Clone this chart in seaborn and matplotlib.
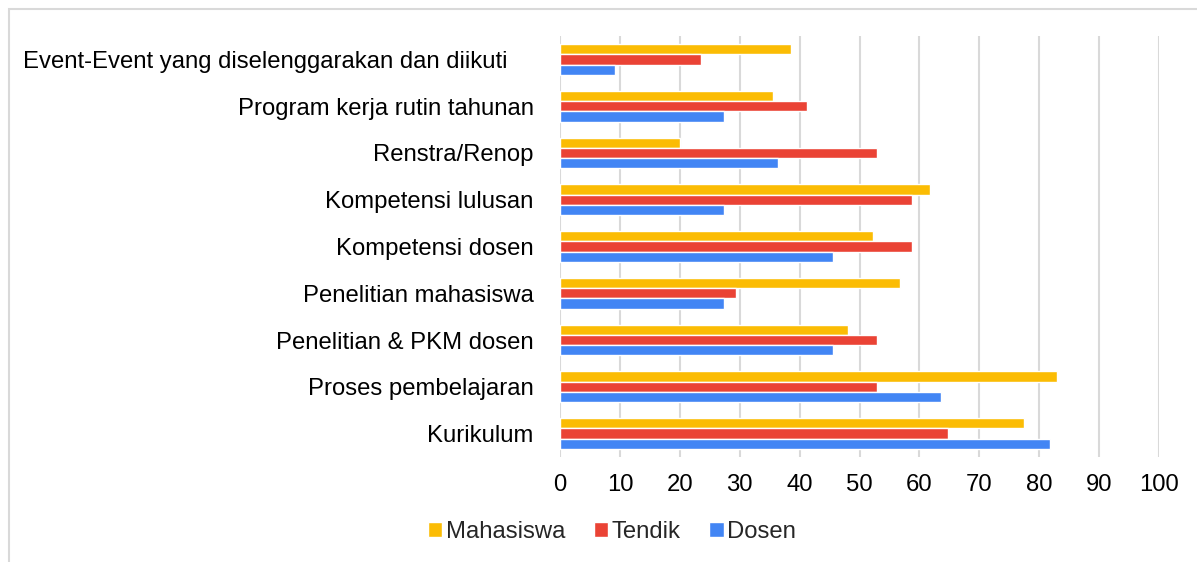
import numpy as np
import pandas as pd
import matplotlib.pyplot as plt
import matplotlib.transforms as mtransforms
import seaborn as sns
from matplotlib.patches import Rectangle, Patch

sns.set_style("white")
plt.rcParams['font.family'] = ['Liberation Sans', 'DejaVu Sans']

categories = ["Event-Event yang diselenggarakan dan diikuti", "Program kerja rutin tahunan",
              "Renstra/Renop", "Kompetensi lulusan", "Kompetensi dosen",
              "Penelitian mahasiswa", "Penelitian & PKM dosen", "Proses pembelajaran",
              "Kurikulum"]
series = ["Mahasiswa", "Tendik", "Dosen"]
mahasiswa = [38.6, 35.6, 20.1, 61.7, 52.3, 56.7, 48.1, 83.0, 77.4]
tendik = [23.5, 41.2, 52.9, 58.8, 58.8, 29.4, 52.9, 52.9, 64.7]
dosen = [9.1, 27.3, 36.4, 27.3, 45.5, 27.3, 45.5, 63.6, 81.8]
colors = ["#FBBC04", "#EA4335", "#4285F4"]
xticks = list(range(0, 101, 10))

df = pd.DataFrame({
    "kategori": categories * 3,
    "seri": np.repeat(series, len(categories)),
    "nilai": mahasiswa + tendik + dosen,
})

fig = plt.figure(figsize=(11.97, 5.62), dpi=100)
ax = fig.add_axes([560 / 1197, 1 - 457 / 562, (1159 - 560) / 1197, (457 - 36) / 562])

sns.barplot(data=df, x="nilai", y="kategori", hue="seri", order=categories,
            hue_order=series, palette=colors, orient="h", width=0.66,
            saturation=1, legend=False, ax=ax, zorder=3)

ax.set_xlim(0, 100)
ax.set_ylim(len(categories) - 0.5, -0.5)
ax.set_xticks(xticks)
ax.set_xlabel("")
ax.set_ylabel("")
ax.grid(axis="x", color="#d9d9d9", linewidth=1.5, zorder=0)
ax.grid(axis="y", visible=False)
for s in ax.spines.values():
    s.set_visible(False)
ax.tick_params(axis="both", length=0, labelsize=17.2, colors="black")
ax.tick_params(axis="y", pad=19)
ax.tick_params(axis="x", pad=12)

# the long first label sits a bit further left in the original
lbl = ax.get_yticklabels()[0]
lbl.set_transform(lbl.get_transform() + mtransforms.ScaledTranslation(-0.26, 0, fig.dpi_scale_trans))

handles = [Patch(facecolor=c, label=s) for c, s in zip(colors, series)]
fig.legend(handles=handles, loc="center", bbox_to_anchor=(612 / 1197, 1 - 532 / 562),
           ncol=3, frameon=False, fontsize=17.2, handlelength=0.6, handleheight=0.6,
           handletextpad=0.15, columnspacing=1.2)

fig.patches.append(Rectangle((8.5 / 1197, -0.1), 1.2, 1.1 - 9 / 562, transform=fig.transFigure,
                             fill=False, edgecolor="#d9d9d9", linewidth=1.5))

fig.savefig("out.png", dpi=100)
